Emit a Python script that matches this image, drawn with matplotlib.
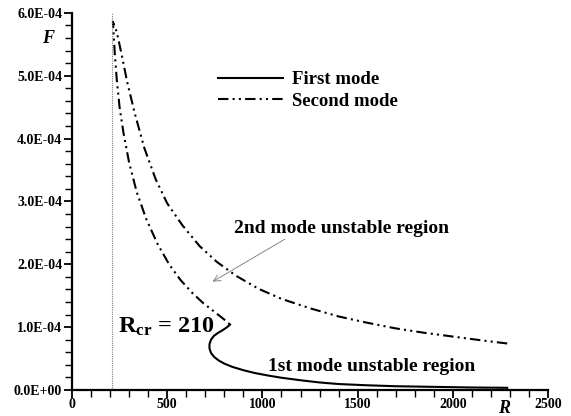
import matplotlib
matplotlib.use("Agg")
import matplotlib.pyplot as plt
from matplotlib.ticker import MultipleLocator, FuncFormatter

plt.rcParams['font.family'] = ['Liberation Serif', 'DejaVu Serif']
plt.rcParams['font.weight'] = 'bold'
plt.rcParams['mathtext.fontset'] = 'custom'
plt.rcParams['mathtext.rm'] = 'Liberation Serif:bold'
plt.rcParams['mathtext.bf'] = 'Liberation Serif:bold'
plt.rcParams['mathtext.it'] = 'Liberation Serif:bold:italic'

# Second mode (outer branch from right end up to the top, then inner branch down to the nose)
R2 = [2285, 2150, 2000, 1850, 1700, 1550, 1400, 1250, 1100, 980, 860, 760, 670, 580, 500, 440, 380, 330, 290,
      260, 235, 215,
      218, 225, 235, 250, 270, 300, 340, 390, 450, 510, 570, 630, 690, 750, 800, 830]
F2 = [0.74, 0.79, 0.85, 0.91, 0.98, 1.07, 1.17, 1.30, 1.45, 1.61, 1.82, 2.04, 2.29, 2.62, 2.97, 3.35, 3.85, 4.40, 4.90,
      5.35, 5.70, 5.86,
      5.70, 5.35, 4.95, 4.50, 4.10, 3.62, 3.15, 2.72, 2.32, 2.00, 1.75, 1.55, 1.38, 1.24, 1.12, 1.04]

# First mode
R1 = [830, 810, 790, 765, 745, 730, 722, 722, 730, 745, 770, 800, 840, 900, 960, 1030, 1100, 1200, 1300, 1400,
      1550, 1700, 1900, 2100, 2285]
F1 = [1.04, 0.99, 0.95, 0.905, 0.86, 0.80, 0.73, 0.66, 0.59, 0.53, 0.47, 0.42, 0.37, 0.315, 0.27, 0.23, 0.195,
      0.155, 0.12, 0.095, 0.075, 0.06, 0.05, 0.04, 0.035]

R_cr = 210
scale = 1e-4

fig = plt.figure(figsize=(5.71, 4.16), dpi=100)
ax = fig.add_axes([0.126, 0.0625, 0.834, 0.9065])

ax.plot(R1, [f * scale for f in F1], color='black', lw=1.5, label='First mode')
ax.plot(R2, [f * scale for f in F2], color='black', lw=1.5, dashes=(5, 2, 1, 2, 1, 2), label='Second mode')
ax.plot([R_cr, R_cr], [0, 6e-4], color='gray', lw=0.8, ls=(0, (1, 1)))

ax.set_xlim(0, 2500)
ax.set_ylim(0, 6e-4)
ax.spines['top'].set_visible(False)
ax.spines['right'].set_visible(False)
ax.spines['left'].set_linewidth(1.6)
ax.spines['bottom'].set_linewidth(1.6)

ax.xaxis.set_major_locator(MultipleLocator(500))
ax.xaxis.set_minor_locator(MultipleLocator(100))
ax.yaxis.set_major_locator(MultipleLocator(1e-4))
ax.yaxis.set_minor_locator(MultipleLocator(2e-5))
ax.yaxis.set_major_formatter(FuncFormatter(lambda v, p: f"{v:.1E}"))
ax.tick_params(which='major', length=6, width=1.3, labelsize=10, pad=1)
ax.tick_params(axis='x', which='major', pad=0)
ax.tick_params(which='minor', length=5, width=1.0)

ax.text(-126, 5.6e-4, 'F', fontsize=13, fontweight='bold', fontstyle='italic', ha='center', va='center')
ax.text(2269, -0.29e-4, 'R', fontsize=13, fontweight='bold', fontstyle='italic', ha='center', va='center',
        clip_on=False)

leg = ax.legend(loc='upper left', bbox_to_anchor=(0.29, 0.865), frameon=False, fontsize=13.5,
                handlelength=3.5, handletextpad=0.45, labelspacing=0.22, borderaxespad=0)
for t in leg.get_texts():
    t.set_fontweight('bold')

ax.text(1413, 2.57e-4, '2nd mode unstable region', fontsize=14, fontweight='bold', ha='center', va='center')
ax.text(1571, 0.37e-4, '1st mode unstable region', fontsize=14, fontweight='bold', ha='center', va='center')
ax.text(242, 1.0e-4, r'$\mathrm{R_{cr}}$ = 210', fontsize=17.5, fontweight='bold', ha='left', va='center')

ax.annotate('', xy=(725, 1.70e-4), xytext=(1129, 2.42e-4),
            arrowprops=dict(arrowstyle='->', color='gray', lw=0.8, ls=(0, (1, 1)), mutation_scale=12))

fig.canvas.draw()
for lab in ax.get_xticklabels() + ax.get_yticklabels():
    lab.set_fontweight('bold')

fig.savefig('out.png', dpi=100)
